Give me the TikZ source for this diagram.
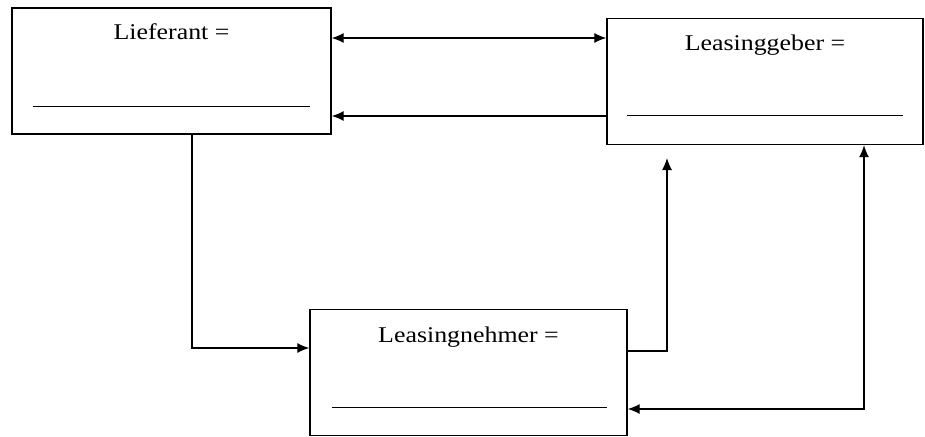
\documentclass[tikz,border=0pt]{standalone}
\usepackage{fontspec}
\setmainfont{Liberation Serif}[FakeStretch=1.15]
\usetikzlibrary{arrows.meta}

\begin{document}
\begin{tikzpicture}[x=1pt, y=-1pt, line width=1.2pt, >={Latex[length=12pt,width=10pt]},
    box/.style={draw, line width=1.4pt, inner sep=0pt, minimum height=126pt},
    title/.style={anchor=base, font=\fontsize{22.5}{27}\selectfont},
    blank/.style={line width=0.9pt}]
        \useasboundingbox (0,0) rectangle (925,436);
        \node[box, minimum width=319pt](lief) at (171.5,71) {};
        \node[box, minimum width=316pt](geber) at (765,81.5) {};
        \node[box, minimum width=317pt](nehmer) at (468.5,372.5) {};
        \node[title] at (lief.north |- 0,40) {Lieferant =};
        \node[title] at (geber.north |- 0,51) {Leasinggeber =};
        \node[title] at (nehmer.north |- 0,342) {Leasingnehmer =};
        \draw[blank] (33,106) -- (310,106);
        \draw[blank] (627,115) -- (903,115);
        \draw[blank] (332,407) -- (607,407);
        \coordinate (up) at (667,158);
        \draw[<->] (lief.east |- 0,38) -- (geber.west |- 0,38);
        \draw[->] (geber.west |- 0,116) -- (lief.east |- 0,116);
        \draw[->] (lief.south -| 192,0) |- (nehmer.west |- 0,348);
        \draw[->] (nehmer.east |- 0,351) -| (up);
        \draw[<->] (nehmer.east |- 0,409) -| (geber.south -| 864,0);
\end{tikzpicture}
\end{document}
